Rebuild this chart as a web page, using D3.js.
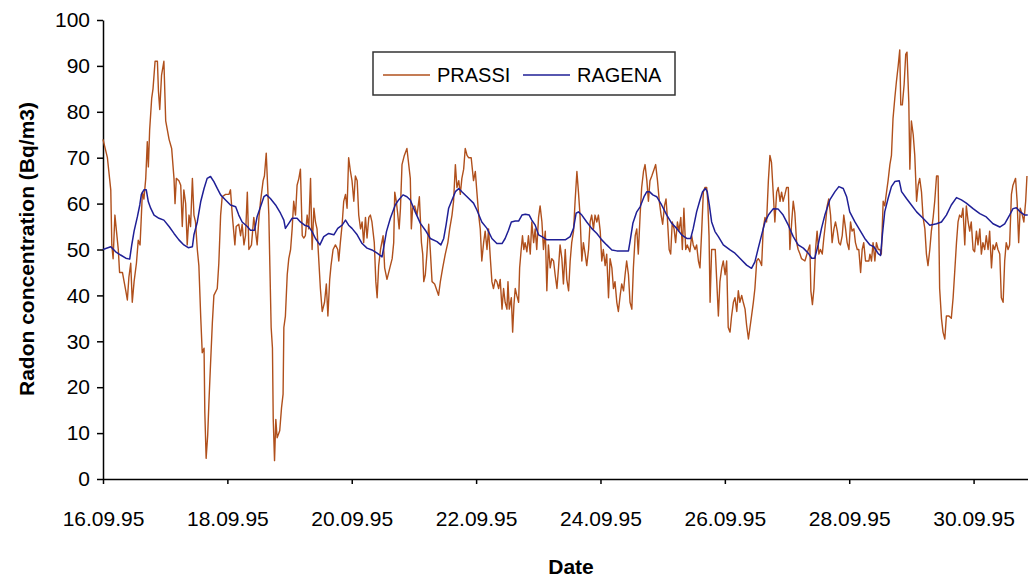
<!DOCTYPE html>
<html>
<head>
<meta charset="utf-8">
<script src="https://cdn.jsdelivr.net/npm/d3@7"></script>
<style>
    body { margin: 0; background: #fff; }
    #chart { width: 1028px; height: 577px; }
    .axis text { font-family: "Liberation Sans", Arial, sans-serif; font-size: 21px; fill: #000; }
    .axis path, .axis line { stroke: #000; stroke-width: 1.5px; }
    .axis-title { font-family: "Liberation Sans", Arial, sans-serif; font-size: 21px; font-weight: bold; fill: #000; }
    .legend text { font-family: "Liberation Sans", Arial, sans-serif; font-size: 20px; fill: #000; }
</style>
</head>
<body>
<div id="chart"></div>
<script>

// hours since 16.09.95 00:00 -> value (Bq/m3)
const prassi = [
    [0,74],[1.7,70],[3.0,63],[3.4,51],[3.9,48],[4.6,57.5],[5.2,54],[5.9,50],[6.4,45],[7.5,45],[8.8,41],[9.4,39],
    [10.0,44],[10.7,47],[11.3,38.5],[12.0,43],[12.9,47],[13.6,52],[14.3,51],[14.7,56],[15.2,62.5],[15.8,61],
    [16.5,65.5],[17.1,73.5],[17.5,68],[18.0,76],[18.8,83],[19.3,85],[20.1,91],[21.0,91],[21.4,84.5],[21.9,80.5],
    [22.6,88],[23.5,91],[24.2,78],[25.5,74],[26.5,72],[27.4,65.5],[27.8,60],[28.3,65.5],[29.3,65],[30.0,64],
    [30.6,55],[31.2,63],[31.9,60],[32.5,51],[33.2,57.5],[33.8,55],[34.5,65.5],[35.1,57.5],[35.7,56],[36.4,50],
    [37.0,46.5],[37.7,35.5],[38.3,27.5],[39.0,28.5],[39.3,14.5],[39.8,4.5],[40.4,9.5],[40.9,17],[41.5,25],
    [42.2,34],[42.8,40],[44.1,41.5],[44.7,47],[45.4,57.5],[46.0,61.5],[47.3,62],[48.6,62],[49.2,63],[49.9,57.5],
    [50.9,51],[51.4,55],[52.4,55.5],[53.1,53],[53.7,55.5],[54.4,51],[55.0,53],[55.7,62.5],[56.3,50],[57.3,51],
    [58.2,57],[59.5,51],[60.2,57],[60.8,60.5],[61.8,65],[62.3,66],[63.0,71],[63.6,63],[64.0,57.5],[64.4,46.5],
    [64.9,33],[65.4,28.5],[65.7,13],[66.2,4],[66.7,13],[67.2,9],[68.2,10.5],[68.9,15.5],[69.5,18.5],[69.8,33],
    [70.4,35.5],[71.1,44.5],[71.7,48],[72.4,50],[73.0,54.5],[73.6,60.5],[74.3,57.5],[74.9,64],[75.6,65.5],
    [76.2,67.5],[76.9,53],[77.5,52.5],[78.1,53],[78.8,57.5],[79.4,54.5],[80.1,65.5],[80.7,50],[81.4,59],[82.0,56],
    [82.6,54.5],[83.3,47.5],[83.9,41.5],[84.6,36.5],[85.5,38.5],[86.2,42.5],[86.8,35.5],[87.5,43.5],[88.0,46.5],
    [88.8,50],[89.7,51],[90.6,50],[91.0,47.5],[91.6,51.5],[92.3,55.5],[92.9,60.5],[93.6,62],[94.2,59],[94.8,70],
    [95.5,67],[96.1,65],[96.8,60.5],[97.4,66],[98.1,65],[98.7,57.5],[99.4,54.5],[100.0,56],[100.6,51.5],
    [101.3,57],[101.9,52.5],[102.6,57],[103.2,57.5],[103.8,56],[104.7,51.5],[105.3,43],[105.8,39.5],[106.4,46.5],
    [107.1,50],[108.1,53],[108.7,46],[109.6,43.5],[110.7,46],[111.6,48],[112.2,51.5],[112.6,62.5],[113.2,60.5],
    [113.7,58],[114.3,54.5],[114.8,59],[115.4,68.5],[116.3,70.5],[117.3,72],[118.6,65.5],[119.0,54.5],[119.5,59],
    [120.3,59.5],[121.2,57.5],[122.1,61.5],[122.9,51.5],[123.4,49],[123.8,43],[124.4,44.5],[125.0,49],
    [125.7,55.5],[126.3,50],[127.0,43],[128.0,42.5],[128.9,41],[129.5,40],[130.2,43],[131.1,46],[132.1,49],
    [133.1,51.5],[133.8,54.5],[134.7,57.5],[135.3,60.5],[136.0,68.5],[136.6,63.5],[137.3,65],[137.9,62],
    [138.5,65.5],[139.2,67.5],[139.8,72],[140.5,70.5],[141.1,70],[142.1,70],[143.0,65],[143.7,67],[144.3,62.5],
    [145.0,57.5],[145.6,54.5],[146.2,47.5],[146.9,51.5],[147.5,54],[148.2,50],[148.8,54.5],[149.5,48],[150.1,43],
    [150.7,41.5],[151.4,43.5],[152.0,43],[152.7,41.5],[153.3,43.5],[154.0,37],[154.6,41.5],[155.2,38.5],
    [155.9,37],[156.3,43],[156.8,37],[157.6,39.5],[158.1,32],[158.6,38],[159.1,41.5],[159.7,40],[160.4,38.5],
    [160.8,46],[161.4,50],[161.9,53],[162.4,50],[162.9,51.5],[163.6,49.5],[164.2,53],[164.9,49],[165.5,56],
    [166.2,51.5],[166.8,54.5],[167.4,50],[168.1,57],[168.7,59.5],[169.4,56],[170.0,50],[170.7,54],[171.3,41],
    [171.9,51],[172.6,46],[173.2,48],[173.9,47.5],[174.5,44.5],[175.2,41.5],[175.8,46],[176.4,51],[177.1,48],
    [177.7,42.5],[178.4,50],[179.0,43.5],[179.7,41],[180.3,47.5],[180.9,51.5],[181.6,54],[182.2,60.5],[182.9,67],
    [183.5,62.5],[184.1,57.5],[184.8,47.5],[185.4,51.5],[186.1,49],[186.7,46.5],[187.4,50],[188.0,56],[188.6,57.5],
    [189.3,54.5],[189.9,57.5],[190.6,56],[191.2,57.5],[191.9,54],[192.5,47.5],[193.1,50],[193.8,46.5],[194.4,49],
    [195.1,39.5],[195.7,48],[196.4,46],[197.0,41.5],[197.6,43],[198.3,38.5],[198.9,36.5],[199.6,40],[200.2,42.5],
    [200.9,41],[201.5,44.5],[202.1,47.5],[202.8,44.5],[203.4,38.5],[204.1,37],[204.7,46],[205.4,53],[206.0,54.5],
    [206.6,49],[207.3,57.5],[207.9,63.5],[208.6,67],[209.2,68.5],[209.9,65],[210.5,60.5],[211.1,65],[211.8,66],
    [212.7,67.5],[213.3,68.5],[214.0,65],[214.7,60.5],[215.4,57.5],[216.0,55.5],[216.7,59.5],[217.3,61],
    [217.8,57],[218.5,50],[219.1,49],[219.7,56],[220.4,54.5],[221.0,51.5],[221.7,56],[222.3,54],[223.0,57],
    [223.6,50],[224.2,59],[224.9,50],[225.5,51],[226.5,49.5],[227.2,53],[227.8,51],[228.5,50],[229.1,51],
    [229.8,47.5],[230.4,46],[231.1,54.5],[231.7,62.5],[232.3,63.5],[233.0,63.5],[233.4,60.5],[233.9,53],
    [234.3,38.5],[234.9,50],[235.5,50],[236.3,50],[236.8,44],[237.5,35.5],[238.1,43],[238.8,46],[239.4,47.5],
    [240.1,44.5],[240.7,47.5],[241.3,33],[242.0,32],[242.6,35.5],[243.3,38.5],[243.9,39.5],[244.6,36.5],
    [245.2,41],[245.8,38.5],[246.5,40],[247.1,38.5],[247.8,37],[248.4,33.5],[249.1,30.5],[249.7,33],[250.3,35.5],
    [251.0,38.5],[251.6,41.5],[252.3,47.5],[252.9,48],[253.5,47.5],[254.2,46.5],[254.8,54.5],[255.5,57],
    [256.1,56],[256.8,65],[257.4,70.5],[258.0,69],[258.7,62],[259.3,56],[260.0,62.5],[260.6,63.5],[261.3,60.5],
    [261.9,62.5],[262.5,60.5],[263.2,62],[263.8,63.5],[264.5,63.5],[265.1,50],[265.8,56],[266.4,60.5],[267.0,58],
    [267.7,51.5],[268.3,50],[269.0,49],[269.6,48],[270.9,47.5],[272.2,50],[272.8,51],[273.2,41],[273.8,38],
    [274.4,41.5],[275.0,50],[275.6,54],[276.3,49],[276.9,50],[277.6,49],[278.2,52.5],[278.9,56],[279.5,59.5],
    [280.1,61],[280.8,57.5],[281.4,51.5],[282.1,54.5],[282.7,56],[283.4,54],[284.0,51.5],[284.6,51],[285.3,53],
    [285.9,57.5],[286.6,54.5],[287.2,51.5],[287.9,50],[288.5,56],[289.1,54],[289.8,54.5],[290.4,51.5],[291.1,50],
    [291.7,50],[292.4,45],[293.0,50],[293.6,51.5],[294.3,47.5],[294.9,47.5],[295.6,47.5],[296.0,49],[296.6,47.5],
    [297.2,51.5],[297.9,47.5],[298.5,51.5],[299.2,50],[299.8,50],[300.4,49],[301.1,60.5],[301.7,59.5],
    [302.4,62.5],[303.0,65],[303.7,68.5],[304.3,70.5],[304.9,78.5],[305.6,83],[306.2,86.5],[306.9,90],
    [307.5,93.5],[307.9,81.5],[308.5,81.5],[309.2,86],[309.8,92.5],[310.3,93],[311.0,82],[311.4,67.5],[312.0,78],
    [312.7,75],[313.3,70.5],[314.0,60.5],[314.6,64],[315.2,65.5],[315.9,62.5],[316.5,57],[317.2,54.5],[317.8,49],
    [318.4,46.5],[319.1,50],[319.7,54],[320.4,57],[321.0,60.5],[321.7,66],[322.3,66],[322.9,41.5],[323.6,35],
    [324.2,32],[324.9,30.5],[325.5,35.5],[326.5,35.5],[327.4,35],[328.1,39.5],[328.7,45],[329.4,51.5],[330.0,56],
    [330.6,57.5],[331.3,57],[331.9,59],[332.6,51],[333.2,59.5],[333.9,56],[334.5,54],[335.1,56],[335.8,50],
    [336.4,49.5],[337.1,54],[337.7,51],[338.4,54.5],[339.0,49],[339.6,51.5],[340.3,50],[340.9,53],[341.6,50],
    [342.2,54],[342.9,46],[343.5,51],[344.1,50],[344.8,51.5],[345.4,50],[346.1,49],[346.7,39.5],[347.4,38.5],
    [348.0,47.5],[348.6,51.5],[349.3,50],[349.9,51],[350.6,62],[351.2,64],[352.2,65.5],[352.8,60.5],[353.4,51.5],
    [354.0,59],[354.8,57.5],[355.4,56],[356.1,60.5],[356.6,66]
];

const ragena = [
    [0,50],[3.0,50.6],[4.9,49.5],[6.8,48.8],[8.8,48.1],[10.3,47.9],[11.1,51],[12.0,54],[13.3,57.2],[14.2,59.7],
    [14.8,62],[15.8,63],[16.7,63],[17.5,60.4],[18.4,59],[19.7,57.5],[21.6,56.8],[23.5,56.4],[25.5,55],[27.4,53.5],
    [29.3,52.1],[31.2,51],[32.9,50.4],[34.5,50.6],[35.1,53.2],[36.4,56],[37.7,60.4],[39.0,63.3],[40.2,65.5],
    [41.5,65.9],[42.8,64.8],[44.1,63.3],[45.4,61.9],[47.3,60.8],[49.2,59.7],[51.2,59.3],[52.4,57.5],[53.7,56],
    [55.7,55],[56.9,54.2],[58.5,54.2],[59.5,57.2],[60.8,59.3],[62.1,61.5],[63.1,61.9],[64.6,61.1],[66.6,59.7],
    [68.5,57.9],[69.8,56.4],[70.4,54.6],[71.7,55.7],[73.0,56.8],[74.9,56.8],[76.2,56],[77.8,55.3],[79.4,55],
    [80.7,53.9],[82.0,52.4],[83.7,51],[85.2,52.8],[87.1,53.5],[89.1,53.2],[90.6,54.6],[92.3,55.3],[93.6,56.4],
    [94.8,55.3],[96.1,54.6],[98.1,53.2],[100.0,51.3],[101.9,50.3],[103.8,49.9],[105.8,49.2],[107.7,48.4],
    [108.3,50.3],[109.4,53.9],[110.9,56.8],[112.8,59.7],[114.1,60.8],[115.8,61.9],[117.3,61.5],[118.6,60.8],
    [120.5,58.2],[122.5,55.7],[124.4,54.2],[126.3,52.4],[128.9,51.7],[130.4,51],[131.5,52.4],[132.4,55.3],
    [133.4,59],[134.7,60.8],[136.0,62.6],[137.3,63.3],[138.5,62.6],[140.5,61.5],[143.0,60.1],[144.3,58.6],
    [146.2,56],[148.2,54.6],[150.1,52.4],[152.0,51.3],[154.0,51.3],[155.2,52.4],[156.5,54.2],[157.6,56],
    [159.1,56.2],[160.4,56.2],[161.7,57.5],[163.0,57.7],[164.5,57.5],[165.5,56.4],[166.8,55.3],[168.1,53.2],
    [169.4,52.8],[171.3,52.1],[173.2,52.1],[175.8,52.1],[178.4,52.1],[180.3,52.8],[181.6,54.6],[182.6,57.9],
    [183.5,58.2],[184.8,57.5],[186.7,56],[188.6,54.6],[190.6,53.5],[192.5,52.1],[194.4,51],[196.4,49.9],
    [198.3,49.7],[200.9,49.7],[202.8,49.7],[203.4,51.7],[204.5,55.7],[206.0,58.2],[207.3,59.3],[208.8,61.5],
    [209.9,62.6],[210.9,62.6],[212.2,61.9],[213.7,61.5],[215.6,59.7],[217.6,57.5],[219.5,55.7],[221.4,54.6],
    [223.3,53.2],[225.3,52.4],[226.8,52.4],[227.8,54.6],[229.1,58.2],[230.4,60.8],[231.4,62.6],[232.5,63.3],
    [233.2,62.6],[234.0,59.7],[234.9,56],[236.2,53.9],[237.5,52.8],[239.4,51],[242.0,49.9],[243.9,49.2],
    [245.8,48.1],[248.4,46.6],[250.3,45.9],[251.6,47.3],[252.9,50.3],[254.2,53.2],[255.5,56],[256.8,57.5],
    [258.7,58.9],[260.6,58.8],[262.5,57.5],[264.5,55.3],[266.4,52.8],[268.3,51],[270.3,50.3],[272.2,49.2],
    [273.5,48.1],[274.7,48.1],[276.0,51],[277.3,54.6],[278.6,57.5],[280.5,60.8],[282.5,62.6],[284.0,63.7],
    [285.7,63.3],[287.0,61.5],[288.2,58.2],[290.2,56],[292.1,54.2],[294.0,52.4],[296.0,51],[297.5,50.6],
    [299.2,49.1],[300.1,48.7],[300.8,53.2],[301.7,58.2],[303.0,61.1],[304.3,63.7],[305.6,64.8],[307.3,65],
    [308.2,62.6],[310.1,61.1],[312.0,59.7],[314.0,58.2],[316.5,56.8],[319.1,55.3],[321.7,55.6],[323.6,56],
    [325.5,57.5],[327.4,59.7],[329.4,61.3],[331.3,60.8],[333.2,60.1],[335.8,58.9],[338.4,57.8],[340.9,57.1],
    [343.5,55.6],[346.1,54.9],[348.0,55.6],[349.9,57.5],[351.2,58.9],[352.5,59.1],[354.0,58.2],[355.7,57.5],
    [356.9,57.5]
];

const tickHours = [0, 48, 96, 144, 192, 240, 288, 336];
const tickLabels = ["16.09.95", "18.09.95", "20.09.95", "22.09.95", "24.09.95", "26.09.95", "28.09.95", "30.09.95"];
const yTicks = [0, 10, 20, 30, 40, 50, 60, 70, 80, 90, 100];
const seriesNames = ["PRASSI", "RAGENA"];
const seriesColors = ["#b0501c", "#1f1f96"];

class RadonVis {

    constructor(parentElement) {
        this.parentElement = parentElement;
        this.initVis();
    }

    initVis() {
        let vis = this;

        vis.margin = {top: 20, right: 0, bottom: 98, left: 103};
        vis.width = 1028 - vis.margin.left - vis.margin.right;
        vis.height = 577 - vis.margin.top - vis.margin.bottom;

        vis.svg = d3.select("#" + vis.parentElement).append("svg")
            .attr("width", 1028)
            .attr("height", 577);

        vis.chartArea = vis.svg.append("g")
            .attr("transform", "translate(" + vis.margin.left + "," + vis.margin.top + ")");

        // x scale in hours since 16.09.95
        vis.x = d3.scaleLinear()
            .domain([0, 357])
            .range([0, vis.width]);

        vis.y = d3.scaleLinear()
            .domain([0, 100])
            .range([vis.height, 0]);

        vis.xAxis = d3.axisBottom(vis.x)
            .tickValues(tickHours)
            .tickFormat((d, i) => tickLabels[i])
            .tickSize(5)
            .tickSizeOuter(0)
            .tickPadding(27);

        vis.yAxis = d3.axisLeft(vis.y)
            .tickValues(yTicks)
            .tickSize(6)
            .tickSizeOuter(0)
            .tickPadding(7);

        vis.chartArea.append("g")
            .attr("class", "axis")
            .attr("transform", "translate(0," + vis.height + ")")
            .call(vis.xAxis);

        vis.chartArea.append("g")
            .attr("class", "axis")
            .call(vis.yAxis);

        // axis titles
        vis.svg.append("text")
            .attr("class", "axis-title")
            .attr("text-anchor", "middle")
            .attr("x", 571)
            .attr("y", 574)
            .text("Date");

        vis.svg.append("text")
            .attr("class", "axis-title")
            .attr("text-anchor", "middle")
            .attr("transform", "translate(34,249) rotate(-90)")
            .text("Radon concentration (Bq/m3)");

        vis.line = d3.line()
            .x(d => vis.x(d[0]))
            .y(d => vis.y(d[1]));

        vis.chartArea.append("path")
            .datum(prassi)
            .attr("fill", "none")
            .attr("stroke", seriesColors[0])
            .attr("stroke-width", 1.4)
            .attr("stroke-linejoin", "round")
            .attr("d", vis.line);

        vis.chartArea.append("path")
            .datum(ragena)
            .attr("fill", "none")
            .attr("stroke", seriesColors[1])
            .attr("stroke-width", 1.5)
            .attr("stroke-linejoin", "round")
            .attr("d", vis.line);

        // legend
        vis.legend = vis.svg.append("g")
            .attr("class", "legend")
            .attr("transform", "translate(373,52)");

        vis.legend.append("rect")
            .attr("width", 302)
            .attr("height", 43)
            .attr("fill", "#fff")
            .attr("stroke", "#333")
            .attr("stroke-width", 1.5);

        let itemX = [10, 150];
        seriesNames.forEach((name, i) => {
            vis.legend.append("line")
                .attr("x1", itemX[i])
                .attr("x2", itemX[i] + 47)
                .attr("y1", 23)
                .attr("y2", 23)
                .attr("stroke", seriesColors[i])
                .attr("stroke-width", 1.5);
            vis.legend.append("text")
                .attr("x", itemX[i] + 54)
                .attr("y", 29.5)
                .text(name);
        });
    }
}

new RadonVis("chart");
</script>
</body>
</html>
